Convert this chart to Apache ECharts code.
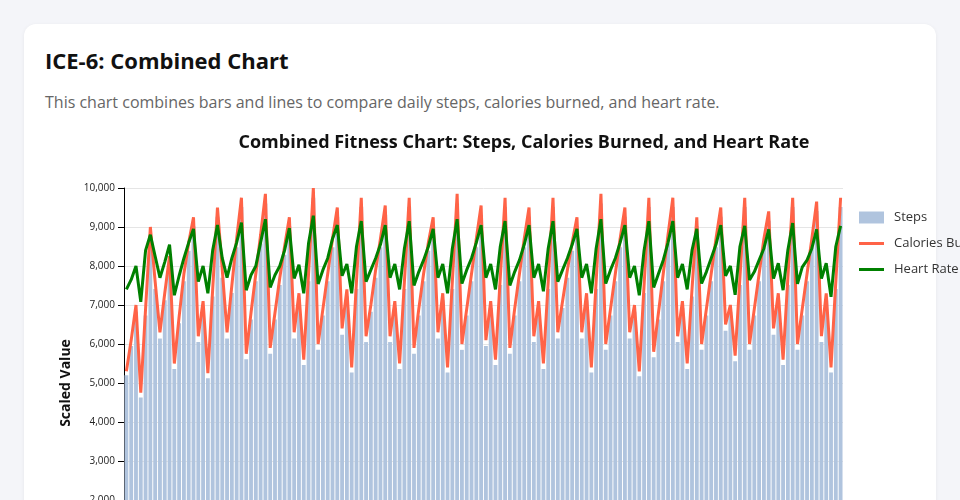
<!DOCTYPE html>
<html><head><meta charset="utf-8">
<script src="https://cdn.jsdelivr.net/npm/echarts/dist/echarts.min.js"></script>
<style>
html,body{margin:0;padding:0;background:#f4f5f9;width:960px;height:500px;overflow:hidden;font-family:"Open Sans",sans-serif;}
.card{position:absolute;left:24px;top:24px;width:912px;height:640px;background:#fff;border-radius:12px;box-shadow:0 1px 4px rgba(0,0,0,0.06);}
h1{position:absolute;left:21px;top:21px;margin:0;font-size:22px;line-height:30px;font-weight:700;color:#111;white-space:nowrap;}
p{position:absolute;left:21px;top:66px;margin:0;font-size:16px;line-height:24px;color:#666;white-space:nowrap;}
#chart{position:absolute;left:20px;top:106px;width:960px;height:480px;}
</style></head>
<body>
<div class="card">
<h1>ICE-6: Combined Chart</h1>
<p>This chart combines bars and lines to compare daily steps, calories burned, and heart rate.</p>
<div id="chart"></div>
</div>
<script>
const chartTitle = "Combined Fitness Chart: Steps, Calories Burned, and Heart Rate";
const seriesNames = ["Steps", "Calories Burned", "Heart Rate"];
const yTicks = [0,1000,2000,3000,4000,5000,6000,7000,8000,9000,10000];
const days = [];
for (let d = 1; d <= 150; d++) days.push("Day " + d);

const steps = [
5200,5950,6830,4630,6730,8780,7410,6140,7120,8040,
5360,6530,7610,8390,9020,6050,6920,5120,7220,9260,
7700,6140,7310,8480,9510,5610,6630,7610,8580,9600,
5750,6630,7510,8290,9020,6140,7120,5460,7610,9750,
5850,6730,7610,8480,9260,6240,7220,5270,7410,9510,
6050,6830,7700,8480,9310,6050,6920,5360,7410,9510,
5750,6730,7610,8390,9020,6140,7120,5270,7410,9600,
5850,6730,7610,8480,9310,5950,6920,5460,7510,9510,
5750,6730,7610,8480,9260,6050,6920,5360,7410,9510,
6140,6920,7700,8390,9020,6140,7120,5270,7410,9600,
5850,6730,7610,8480,9260,6140,6830,5170,7310,9510,
5660,6630,7610,8580,9510,6050,6920,5360,7220,9020,
5850,6730,7610,8480,9260,6340,6830,5560,7510,9510,
5850,6730,7610,8480,9160,6240,7120,5460,7510,9510,
5850,6730,7610,8480,9410,6050,7120,5270,7410,9510];

const calories = [
5300,6100,7000,4750,6900,9000,7600,6300,7300,8250,
5500,6700,7800,8600,9250,6200,7100,5250,7400,9500,
7900,6300,7500,8700,9750,5750,6800,7800,8800,9850,
5900,6800,7700,8500,9250,6300,7300,5600,7800,10000,
6000,6900,7800,8700,9500,6400,7400,5400,7600,9750,
6200,7000,7900,8700,9550,6200,7100,5500,7600,9750,
5900,6900,7800,8600,9250,6300,7300,5400,7600,9850,
6000,6900,7800,8700,9550,6100,7100,5600,7700,9750,
5900,6900,7800,8700,9500,6200,7100,5500,7600,9750,
6300,7100,7900,8600,9250,6300,7300,5400,7600,9850,
6000,6900,7800,8700,9500,6300,7000,5300,7500,9750,
5800,6800,7800,8800,9750,6200,7100,5500,7400,9250,
6000,6900,7800,8700,9500,6500,7000,5700,7700,9750,
6000,6900,7800,8700,9400,6400,7300,5600,7700,9750,
6000,6900,7800,8700,9650,6200,7300,5400,7600,9750];

const heartRate = [
7400,7650,8000,7080,8400,8800,8250,7700,8100,8550,
7250,7750,8200,8600,8950,7600,8000,7300,8400,9050,
8200,7700,8200,8600,9110,7380,7770,8000,8600,9200,
7450,7770,8000,8400,8970,7680,8030,7300,8580,9290,
7540,7900,8200,8700,9050,7750,8050,7300,8500,9150,
7600,7900,8200,8550,9050,7700,8050,7400,8450,9150,
7500,7850,8150,8500,8950,7700,8050,7300,8450,9200,
7550,7900,8200,8600,9050,7700,8050,7400,8500,9150,
7500,7850,8150,8550,9050,7700,8050,7350,8450,9150,
7600,7900,8200,8550,8950,7700,8050,7300,8450,9200,
7550,7900,8200,8600,9050,7700,8000,7250,8400,9150,
7450,7800,8150,8600,9150,7700,8050,7400,8400,8950,
7550,7850,8200,8550,9050,7750,8000,7260,8500,9030,
7640,7850,8150,8450,8940,7680,8070,7380,8410,9100,
7540,7970,8150,8450,8940,7680,8070,7210,8500,9030];

const FONT = '"Open Sans", sans-serif';
const lineIcon = 'path://M0,0H25V3H0Z';
const chart = echarts.init(document.getElementById('chart'), null, {renderer: 'canvas'});
chart.setOption({
  animation: false,
  textStyle: {fontFamily: FONT},
  title: {
    text: chartTitle, left: 'center', top: 4, padding: 0,
    textStyle: {fontFamily: FONT, fontSize: 18, fontWeight: 'bold', color: '#111'}
  },
  legend: {
    orient: 'vertical', left: 815, top: 81, padding: 0, itemWidth: 25, itemHeight: 12, itemGap: 13,
    textStyle: {fontFamily: FONT, fontSize: 13, color: '#333', padding: [0, 0, 0, 5]},
    data: [
      {name: seriesNames[0], icon: 'rect'},
      {name: seriesNames[1], icon: lineIcon},
      {name: seriesNames[2], icon: lineIcon}
    ]
  },
  grid: {left: 80, right: 161, top: 58, bottom: 32, containLabel: false},
  xAxis: {
    type: 'category', data: days, boundaryGap: true,
    axisLine: {lineStyle: {color: '#000'}}, axisTick: {show: false},
    axisLabel: {show: false}
  },
  yAxis: {
    type: 'value', min: yTicks[0], max: yTicks[yTicks.length - 1], interval: 1000,
    name: 'Scaled Value', nameLocation: 'middle', nameGap: 50,
    nameTextStyle: {fontFamily: FONT, fontSize: 14, fontWeight: 'bold', color: '#111'},
    axisLine: {show: true, lineStyle: {color: '#000', width: 1}},
    axisTick: {show: true, length: 6, lineStyle: {color: '#000'}},
    axisLabel: {margin: 9, fontSize: 10, color: '#222', fontFamily: FONT,
      formatter: v => v.toLocaleString('en-US')},
    splitLine: {lineStyle: {color: '#e5e5e5', width: 1}}
  },
  series: [
    {name: seriesNames[0], type: 'bar', data: steps, barCategoryGap: '20%',
     itemStyle: {color: '#b0c4de'}},
    {name: seriesNames[1], type: 'line', data: calories, symbol: 'none',
     lineStyle: {color: '#ff6347', width: 3}, itemStyle: {color: '#ff6347'}},
    {name: seriesNames[2], type: 'line', data: heartRate, symbol: 'none',
     lineStyle: {color: '#008000', width: 3}, itemStyle: {color: '#008000'}}
  ]
});
</script>
</body></html>
